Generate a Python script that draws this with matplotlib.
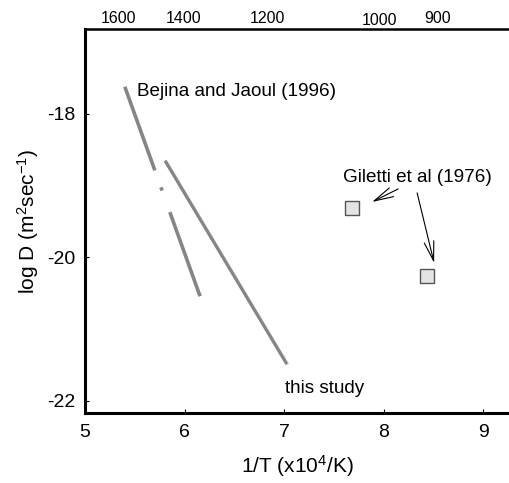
import numpy as np
import matplotlib
matplotlib.use("Agg")
from matplotlib import pyplot as plt

plt.rcParams['font.family'] = ['Liberation Sans', 'DejaVu Sans']
plt.rcParams['mathtext.default'] = 'regular'
plt.rcParams['lines.scale_dashes'] = False
plt.rcParams['axes.unicode_minus'] = False

# Bejina and Jaoul (1996) line (end points)
bj_x = [5.40, 6.156]
bj_y = [-17.62, -20.54]
# this study line
ts_x = [5.804, 7.027]
ts_y = [-18.65, -21.484]
# Giletti et al (1976) points
gi_x = [7.683, 8.437]
gi_y = [-19.31, -20.258]

# top temperature labels (deg C) and their 1/T positions
top_labels = ['1600', '1400', '1200', '1000', '900']
top_pos = [5.34, 5.995, 6.83, 7.955, 8.54]
top_y = [1.027, 1.027, 1.027, 1.021, 1.027]

xticks = [5, 6, 7, 8, 9]
yticks = [-18, -20, -22]

fig = plt.figure(figsize=(5.09, 4.83), dpi=100)
ax = fig.add_axes([0.167, 0.145, 0.833, 0.795])

ax.plot(ts_x, ts_y, color='#d0d0d0', lw=2.6, solid_capstyle='butt',
        transform=ax.transData + matplotlib.transforms.ScaledTranslation(0.6/72, -0.6/72, fig.dpi_scale_trans))
ax.plot(ts_x, ts_y, color='#858585', lw=2.2, solid_capstyle='butt')
bj, = ax.plot(bj_x, bj_y, color='#858585', lw=2.6, solid_capstyle='butt')
bj.set_dashes((64, 13, 2.4, 16.5, 120, 10))

ax.plot(gi_x, gi_y, 's', ms=10, mfc='#e4e4e4', mec='#555555', mew=1.0, ls='none')

ax.text(5.523, -17.69, 'Bejina and Jaoul (1996)', fontsize=13.6, va='center', ha='left')
ax.text(7.593, -18.89, 'Giletti et al (1976)', fontsize=13.6, va='center', ha='left')
ax.text(7.01, -21.82, 'this study', fontsize=13.6, va='center', ha='left')

arr = dict(arrowstyle='->,head_length=1.4,head_width=0.35', color='black', lw=0.8,
           shrinkA=0, shrinkB=0)
ax.annotate('', xy=(7.884, -19.226), xytext=(8.146, -19.045), arrowprops=arr)
ax.annotate('', xy=(8.508, -20.077), xytext=(8.337, -19.10), arrowprops=arr)

for lab, p, yy in zip(top_labels, top_pos, top_y):
    ax.text(p, yy, lab, fontsize=11.5, ha='center', va='center',
            transform=ax.get_xaxis_transform())

ax.set_xlim(5, 9.26)
ax.set_ylim(-22.167, -16.815)
ax.set_xticks(xticks)
ax.set_yticks(yticks)
ax.tick_params(direction='in', length=3, width=0.8, labelsize=14)
ax.tick_params(axis='x', pad=8)
ax.tick_params(axis='y', pad=7)

ax.spines['right'].set_visible(False)
ax.spines['left'].set_linewidth(2.2)
ax.spines['bottom'].set_linewidth(2.2)
ax.spines['top'].set_linewidth(1.8)

ax.set_xlabel('1/T (x10$^4$/K)', fontsize=15, labelpad=9)
ax.set_ylabel('log D (m$^2$sec$^{-1}$)', fontsize=15, labelpad=4)

fig.savefig('out.png', dpi=100)
